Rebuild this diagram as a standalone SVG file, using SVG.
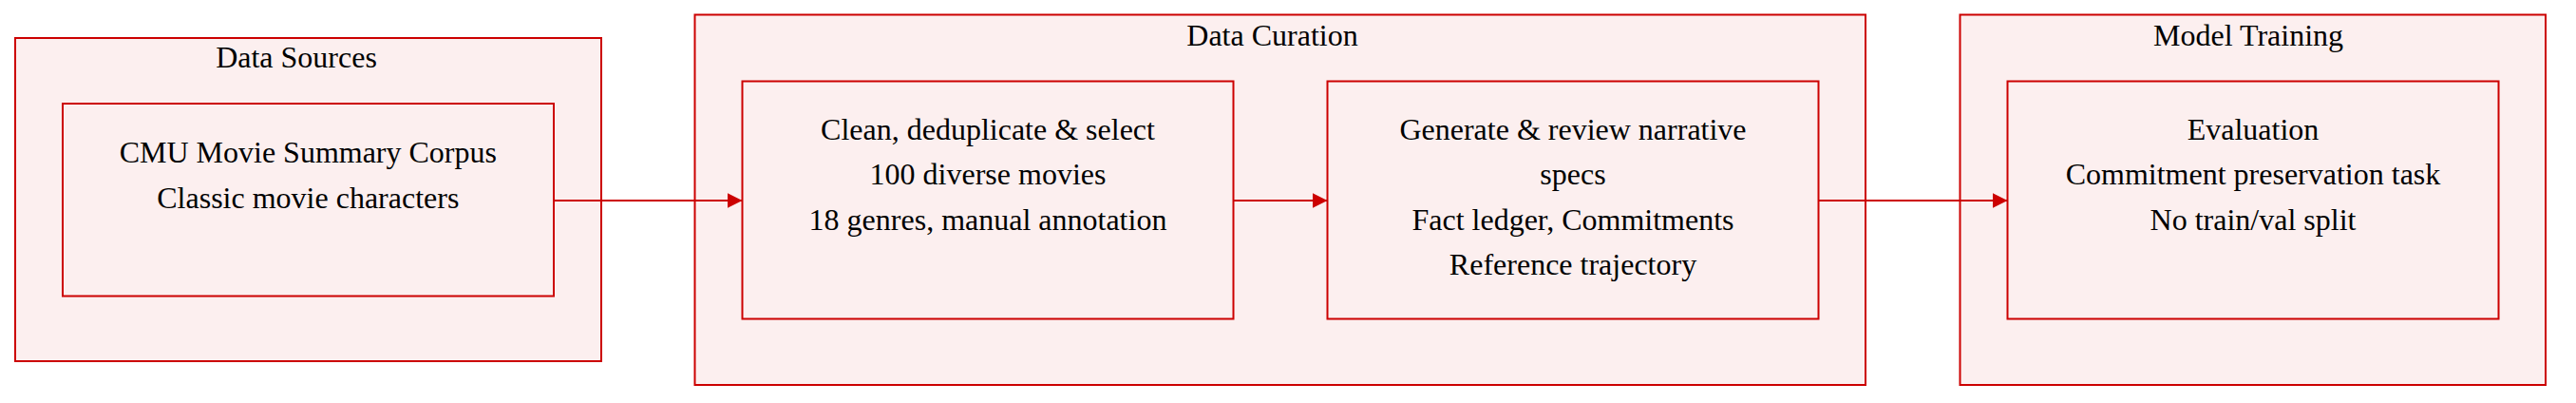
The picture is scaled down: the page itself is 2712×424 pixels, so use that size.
<svg xmlns="http://www.w3.org/2000/svg" width="2712" height="424" viewBox="0 0 2712 424">
<style>
.cluster{fill:#fcefef;stroke:#cc0000;stroke-width:2}
.node{fill:#fcefef;stroke:#cc0000;stroke-width:2}
.t{font-family:"Liberation Serif","Times New Roman",serif;font-size:32px;fill:#000;text-anchor:middle}
.edge{stroke:#cc0000;stroke-width:2;fill:none}
</style>
<defs>
<marker id="arr" markerUnits="userSpaceOnUse" markerWidth="16" markerHeight="16" refX="16" refY="8" orient="auto">
<path d="M0,0 L16,8 L0,16 z" fill="#cc0000"/>
</marker>
</defs>
<g id="cluster-sources">
<rect class="cluster" x="16" y="40" width="617" height="340"/>
<text class="t" x="312" y="71">Data Sources</text>
</g>
<g id="cluster-curation">
<rect class="cluster" x="731.5" y="15.5" width="1232.5" height="389.5"/>
<text class="t" x="1339.5" y="47.7">Data Curation</text>
</g>
<g id="cluster-training">
<rect class="cluster" x="2063.5" y="15.5" width="616.5" height="389.5"/>
<text class="t" x="2367" y="47.7">Model Training</text>
</g>
<g id="node-cmu">
<rect class="node" x="66" y="109" width="517" height="202.5"/>
<text class="t" x="324.3" y="171">CMU Movie Summary Corpus</text>
<text class="t" x="324.3" y="218.5">Classic movie characters</text>
</g>
<g id="node-clean">
<rect class="node" x="781.5" y="85.5" width="517" height="250"/>
<text class="t" x="1040" y="146.7">Clean, deduplicate &amp; select</text>
<text class="t" x="1040" y="194.3">100 diverse movies</text>
<text class="t" x="1040" y="241.7">18 genres, manual annotation</text>
</g>
<g id="node-generate">
<rect class="node" x="1397.5" y="85.5" width="517" height="250"/>
<text class="t" x="1656" y="146.7">Generate &amp; review narrative</text>
<text class="t" x="1656" y="194.3">specs</text>
<text class="t" x="1656" y="241.7">Fact ledger, Commitments</text>
<text class="t" x="1656" y="289.3">Reference trajectory</text>
</g>
<g id="node-eval">
<rect class="node" x="2113.5" y="85.5" width="517" height="250"/>
<text class="t" x="2372" y="146.7">Evaluation</text>
<text class="t" x="2372" y="194.3">Commitment preservation task</text>
<text class="t" x="2372" y="241.7">No train/val split</text>
</g>
<g id="connectors">
<path class="edge" d="M583,211 L781.5,211" marker-end="url(#arr)"/>
<path class="edge" d="M1298.5,211 L1397.5,211" marker-end="url(#arr)"/>
<path class="edge" d="M1914.5,211 L2113.5,211" marker-end="url(#arr)"/>
</g>
</svg>
